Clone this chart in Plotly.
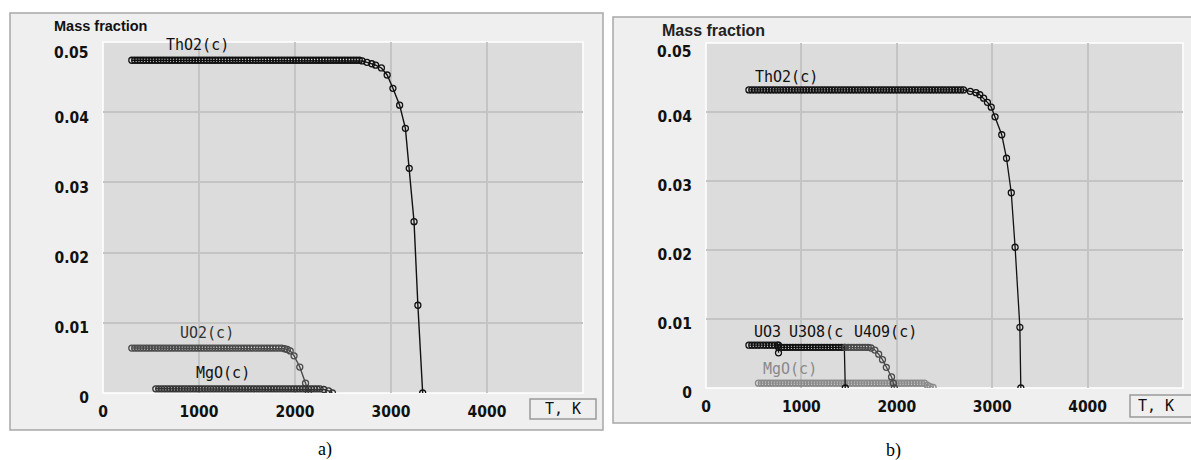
import plotly.graph_objects as go

# ---------------- data: panel a ----------------
THO2_A_T = [300, 330, 360, 390, 420, 450, 480, 510, 540, 570,
            600, 630, 660, 690, 720, 750, 780, 810, 840, 870,
            900, 930, 960, 990, 1020, 1050, 1080, 1110, 1140, 1170,
            1200, 1230, 1260, 1290, 1320, 1350, 1380, 1410, 1440, 1470,
            1500, 1530, 1560, 1590, 1620, 1650, 1680, 1710, 1740, 1770,
            1800, 1830, 1860, 1890, 1920, 1950, 1980, 2010, 2040, 2070,
            2100, 2130, 2160, 2190, 2220, 2250, 2280, 2310, 2340, 2370,
            2400, 2430, 2460, 2490, 2520, 2550, 2580, 2610, 2640, 2670,
            2700, 2750, 2800, 2840, 2900, 2960, 3020, 3090, 3150, 3190,
            3240, 3280, 3330]
THO2_A_V = [0.0474, 0.0474, 0.0474, 0.0474, 0.0474, 0.0474, 0.0474, 0.0474, 0.0474, 0.0474,
            0.0474, 0.0474, 0.0474, 0.0474, 0.0474, 0.0474, 0.0474, 0.0474, 0.0474, 0.0474,
            0.0474, 0.0474, 0.0474, 0.0474, 0.0474, 0.0474, 0.0474, 0.0474, 0.0474, 0.0474,
            0.0474, 0.0474, 0.0474, 0.0474, 0.0474, 0.0474, 0.0474, 0.0474, 0.0474, 0.0474,
            0.0474, 0.0474, 0.0474, 0.0474, 0.0474, 0.0474, 0.0474, 0.0474, 0.0474, 0.0474,
            0.0474, 0.0474, 0.0474, 0.0474, 0.0474, 0.0474, 0.0474, 0.0474, 0.0474, 0.0474,
            0.0474, 0.0474, 0.0474, 0.0474, 0.0474, 0.0474, 0.0474, 0.0474, 0.0474, 0.0474,
            0.0474, 0.0474, 0.0474, 0.0474, 0.0474, 0.0474, 0.0474, 0.0474, 0.0474, 0.0474,
            0.0473, 0.0471, 0.0469, 0.0467, 0.0463, 0.0453, 0.0434, 0.0410, 0.0377, 0.0320,
            0.0244, 0.0125, 0.0]

UO2_A_T = [300, 330, 360, 390, 420, 450, 480, 510, 540, 570,
           600, 630, 660, 690, 720, 750, 780, 810, 840, 870,
           900, 930, 960, 990, 1020, 1050, 1080, 1110, 1140, 1170,
           1200, 1230, 1260, 1290, 1320, 1350, 1380, 1410, 1440, 1470,
           1500, 1530, 1560, 1590, 1620, 1650, 1680, 1710, 1740, 1770,
           1800, 1830, 1860, 1890, 1920, 1950, 1990, 2050, 2110, 2140]
UO2_A_V = [0.0064, 0.0064, 0.0064, 0.0064, 0.0064, 0.0064, 0.0064, 0.0064, 0.0064, 0.0064,
           0.0064, 0.0064, 0.0064, 0.0064, 0.0064, 0.0064, 0.0064, 0.0064, 0.0064, 0.0064,
           0.0064, 0.0064, 0.0064, 0.0064, 0.0064, 0.0064, 0.0064, 0.0064, 0.0064, 0.0064,
           0.0064, 0.0064, 0.0064, 0.0064, 0.0064, 0.0064, 0.0064, 0.0064, 0.0064, 0.0064,
           0.0064, 0.0064, 0.0064, 0.0064, 0.0064, 0.0064, 0.0064, 0.0064, 0.0064, 0.0064,
           0.0064, 0.0064, 0.0064, 0.0063, 0.0062, 0.0060, 0.0053, 0.0037, 0.0014, 0.0]

MGO_A_T = [550, 580, 610, 640, 670, 700, 730, 760, 790, 820,
           850, 880, 910, 940, 970, 1000, 1030, 1060, 1090, 1120,
           1150, 1180, 1210, 1240, 1270, 1300, 1330, 1360, 1390, 1420,
           1450, 1480, 1510, 1540, 1570, 1600, 1630, 1660, 1690, 1720,
           1750, 1780, 1810, 1840, 1870, 1900, 1930, 1960, 1990, 2020,
           2050, 2080, 2110, 2140, 2170, 2200, 2230, 2260, 2300, 2350,
           2390]
MGO_A_V = [0.0006, 0.0006, 0.0006, 0.0006, 0.0006, 0.0006, 0.0006, 0.0006, 0.0006, 0.0006,
           0.0006, 0.0006, 0.0006, 0.0006, 0.0006, 0.0006, 0.0006, 0.0006, 0.0006, 0.0006,
           0.0006, 0.0006, 0.0006, 0.0006, 0.0006, 0.0006, 0.0006, 0.0006, 0.0006, 0.0006,
           0.0006, 0.0006, 0.0006, 0.0006, 0.0006, 0.0006, 0.0006, 0.0006, 0.0006, 0.0006,
           0.0006, 0.0006, 0.0006, 0.0006, 0.0006, 0.0006, 0.0006, 0.0006, 0.0006, 0.0006,
           0.0006, 0.0006, 0.0006, 0.0006, 0.0006, 0.0006, 0.0006, 0.0006, 0.0005, 0.0003,
           0.0]

# ---------------- data: panel b ----------------
THO2_B_T = [450, 480, 510, 540, 570, 600, 630, 660, 690, 720,
            750, 780, 810, 840, 870, 900, 930, 960, 990, 1020,
            1050, 1080, 1110, 1140, 1170, 1200, 1230, 1260, 1290, 1320,
            1350, 1380, 1410, 1440, 1470, 1500, 1530, 1560, 1590, 1620,
            1650, 1680, 1710, 1740, 1770, 1800, 1830, 1860, 1890, 1920,
            1950, 1980, 2010, 2040, 2070, 2100, 2130, 2160, 2190, 2220,
            2250, 2280, 2310, 2340, 2370, 2400, 2430, 2460, 2490, 2520,
            2550, 2580, 2610, 2640, 2670, 2700, 2770, 2830, 2870, 2910,
            2950, 2990, 3030, 3100, 3150, 3200, 3240, 3290, 3300]
THO2_B_V = [0.0432, 0.0432, 0.0432, 0.0432, 0.0432, 0.0432, 0.0432, 0.0432, 0.0432, 0.0432,
            0.0432, 0.0432, 0.0432, 0.0432, 0.0432, 0.0432, 0.0432, 0.0432, 0.0432, 0.0432,
            0.0432, 0.0432, 0.0432, 0.0432, 0.0432, 0.0432, 0.0432, 0.0432, 0.0432, 0.0432,
            0.0432, 0.0432, 0.0432, 0.0432, 0.0432, 0.0432, 0.0432, 0.0432, 0.0432, 0.0432,
            0.0432, 0.0432, 0.0432, 0.0432, 0.0432, 0.0432, 0.0432, 0.0432, 0.0432, 0.0432,
            0.0432, 0.0432, 0.0432, 0.0432, 0.0432, 0.0432, 0.0432, 0.0432, 0.0432, 0.0432,
            0.0432, 0.0432, 0.0432, 0.0432, 0.0432, 0.0432, 0.0432, 0.0432, 0.0432, 0.0432,
            0.0432, 0.0432, 0.0432, 0.0432, 0.0432, 0.0432, 0.0430, 0.0428, 0.0425, 0.0420,
            0.0414, 0.0407, 0.0393, 0.0367, 0.0333, 0.0283, 0.0204, 0.0088, 0.0]

UO3_B_T = [450, 480, 510, 540, 570, 600, 630, 660, 690, 720, 750, 760, 760]
UO3_B_V = [0.0062, 0.0062, 0.0062, 0.0062, 0.0062, 0.0062, 0.0062, 0.0062, 0.0062, 0.0062,
           0.0062, 0.0062, 0.0051]

U3O8_B_T = [760, 790, 820, 850, 880, 910, 940, 970, 1000, 1030,
            1060, 1090, 1120, 1150, 1180, 1210, 1240, 1270, 1300, 1330,
            1360, 1390, 1420, 1450, 1460]
U3O8_B_V = [0.0059, 0.0059, 0.0059, 0.0059, 0.0059, 0.0059, 0.0059, 0.0059, 0.0059, 0.0059,
            0.0059, 0.0059, 0.0059, 0.0059, 0.0059, 0.0059, 0.0059, 0.0059, 0.0059, 0.0059,
            0.0059, 0.0059, 0.0059, 0.0059, 0.0]

U4O9_B_T = [1460, 1490, 1520, 1550, 1580, 1610, 1640, 1670, 1700, 1730,
            1770, 1810, 1850, 1890, 1945, 1965, 1975]
U4O9_B_V = [0.0059, 0.0059, 0.0059, 0.0059, 0.0059, 0.0059, 0.0059, 0.0059, 0.0059, 0.0058,
            0.0055, 0.0049, 0.0041, 0.0030, 0.0016, 0.0007, 0.0]

MGO_B_T = [550, 580, 610, 640, 670, 700, 730, 760, 790, 820,
           850, 880, 910, 940, 970, 1000, 1030, 1060, 1090, 1120,
           1150, 1180, 1210, 1240, 1270, 1300, 1330, 1360, 1390, 1420,
           1450, 1480, 1510, 1540, 1570, 1600, 1630, 1660, 1690, 1720,
           1750, 1780, 1810, 1840, 1870, 1900, 1930, 1960, 1990, 2020,
           2050, 2080, 2110, 2140, 2170, 2200, 2230, 2260, 2290, 2320,
           2350, 2380]
MGO_B_V = [0.0007, 0.0007, 0.0007, 0.0007, 0.0007, 0.0007, 0.0007, 0.0007, 0.0007, 0.0007,
           0.0007, 0.0007, 0.0007, 0.0007, 0.0007, 0.0007, 0.0007, 0.0007, 0.0007, 0.0007,
           0.0007, 0.0007, 0.0007, 0.0007, 0.0007, 0.0007, 0.0007, 0.0007, 0.0007, 0.0007,
           0.0007, 0.0007, 0.0007, 0.0007, 0.0007, 0.0007, 0.0007, 0.0007, 0.0007, 0.0007,
           0.0007, 0.0007, 0.0007, 0.0007, 0.0007, 0.0007, 0.0007, 0.0007, 0.0007, 0.0007,
           0.0007, 0.0007, 0.0007, 0.0007, 0.0007, 0.0007, 0.0007, 0.0007, 0.0007, 0.0004,
           0.0002, 0.0001]

X_TICKS = [0, 1000, 2000, 3000, 4000]
X_TICK_TEXT = ["0", "1000", "2000", "3000", "4000"]
Y_TICKS = [0, 0.01, 0.02, 0.03, 0.04, 0.05]
Y_TICK_TEXT = ["0", "0.01", "0.02", "0.03", "0.04", ""]
Y_TOP_LABEL = "0.05"

# series labels (text, x, y, colour) per panel
LABELS_A = [("ThO2(c)", 985, 0.0496, "#111111"),
            ("UO2(c)", 1079, 0.00855, "#333333"),
            ("MgO(c)", 1255, 0.00285, "#111111")]
LABELS_B = [("ThO2(c)", 846, 0.0451, "#111111"),
            ("UO3", 648, 0.0081, "#111111"),
            ("U3O8(c", 1149, 0.0081, "#111111"),
            ("U4O9(c)", 1881, 0.0081, "#111111"),
            ("MgO(c)", 878, 0.00275, "#8a8a8a")]

W, H = 1191, 460
PLOT_BG = "#dcdcdc"
FRAME_BG = "#efefef"
GRID = "#c4c4c4"
MONO = "DejaVu Sans Mono, Liberation Mono, monospace"
NARROW = "Liberation Sans Narrow, DejaVu Sans Condensed, Liberation Sans, Arial, sans-serif"


def px_x(p):
    return p / W


def px_y(p):
    return 1 - p / H


fig = go.Figure()


def add_series(t, v, color, xa, ya, lw=1.4):
    fig.add_trace(go.Scatter(
        x=t, y=v, mode="lines+markers", xaxis=xa, yaxis=ya,
        line=dict(color=color, width=lw),
        marker=dict(symbol="circle-open", size=6, color=color,
                    line=dict(width=1.3, color=color)),
        showlegend=False, hoverinfo="skip"))


# panel a
add_series(THO2_A_T, THO2_A_V, "#111111", "x", "y")
add_series(UO2_A_T, UO2_A_V, "#4a4a4a", "x", "y")
add_series(MGO_A_T, MGO_A_V, "#333333", "x", "y")
# panel b
add_series(THO2_B_T, THO2_B_V, "#111111", "x2", "y2", lw=1.3)
add_series(MGO_B_T, MGO_B_V, "#8a8a8a", "x2", "y2", lw=1.2)
add_series(UO3_B_T, UO3_B_V, "#111111", "x2", "y2", lw=1.3)
add_series(U3O8_B_T, U3O8_B_V, "#111111", "x2", "y2", lw=1.3)
add_series(U4O9_B_T, U4O9_B_V, "#4a4a4a", "x2", "y2", lw=1.3)

axis_font = dict(family=NARROW, size=15.5, color="#111111", weight="bold")


def xaxis(domain, anchor):
    return dict(domain=domain, anchor=anchor, range=[0, 5000], tickvals=X_TICKS,
                ticktext=X_TICK_TEXT, showgrid=True, gridcolor=GRID, gridwidth=1.5,
                zeroline=False, showline=False, ticks="", ticklabelstandoff=7,
                tickfont=axis_font, fixedrange=True, automargin=False)


def yaxis(domain, anchor):
    return dict(domain=domain, anchor=anchor, range=[0, 0.05], tickvals=Y_TICKS,
                ticktext=Y_TICK_TEXT, showgrid=True, gridcolor=GRID, gridwidth=1.5,
                zeroline=False, showline=False, ticks="", ticklabelstandoff=13,
                ticklabelshift=5, tickfont=axis_font, fixedrange=True, automargin=False)


shapes = [
    # outer frames
    dict(type="rect", xref="paper", yref="paper", x0=px_x(10), x1=px_x(603),
         y0=px_y(430), y1=px_y(13), fillcolor=FRAME_BG,
         line=dict(color="#a8a8a8", width=1.5), layer="below"),
    dict(type="rect", xref="paper", yref="paper", x0=px_x(613), x1=px_x(1200),
         y0=px_y(423), y1=px_y(17), fillcolor=FRAME_BG,
         line=dict(color="#a8a8a8", width=1.5), layer="below"),
    # plot areas
    dict(type="rect", xref="x domain", yref="y domain", x0=0, x1=1, y0=0, y1=1,
         fillcolor=PLOT_BG, line=dict(color="#ffffff", width=1.5), layer="below"),
    dict(type="rect", xref="x2 domain", yref="y2 domain", x0=0, x1=1, y0=0, y1=1,
         fillcolor=PLOT_BG, line=dict(color="#ffffff", width=1.5), layer="below"),
    # "T, K" boxes
    dict(type="rect", xref="paper", yref="paper", x0=px_x(530), x1=px_x(596),
         y0=px_y(419), y1=px_y(399), fillcolor=FRAME_BG,
         line=dict(color="#9a9a9a", width=1.5)),
    dict(type="rect", xref="paper", yref="paper", x0=px_x(1130), x1=px_x(1200),
         y0=px_y(417), y1=px_y(395), fillcolor=FRAME_BG,
         line=dict(color="#9a9a9a", width=1.5)),
]

annotations = []
for text, x, y, c in LABELS_A:
    annotations.append(dict(text=text, x=x, y=y, xref="x", yref="y", showarrow=False,
                            xanchor="center", yanchor="middle",
                            font=dict(family=MONO, size=15, color=c)))
for text, x, y, c in LABELS_B:
    annotations.append(dict(text=text, x=x, y=y, xref="x2", yref="y2", showarrow=False,
                            xanchor="center", yanchor="middle",
                            font=dict(family=MONO, size=15, color=c)))


def txt(text, xp, yp, font, xanchor="center"):
    return dict(text=text, x=px_x(xp), y=px_y(yp), xref="paper", yref="paper",
                xanchor=xanchor, yanchor="middle", showarrow=False, font=font)


annotations += [
    txt("Mass fraction", 52, 26, dict(family="Liberation Sans, Arial, sans-serif", size=14.5,
                                      color="#111111", weight="bold"), "left"),
    txt("Mass fraction", 660, 31, dict(family="Liberation Sans, Arial, sans-serif", size=16,
                                       color="#222222", weight="bold"), "left"),
    txt(Y_TOP_LABEL, 90, 53, axis_font, "right"),
    txt(Y_TOP_LABEL, 693, 52, axis_font, "right"),
    txt("T, K", 563, 409, dict(family=MONO, size=15, color="#111111")),
    txt("T, K", 1136, 406, dict(family=MONO, size=15, color="#111111"), "left"),
    txt("a)", 325, 449, dict(family="Liberation Serif, Times New Roman, serif",
                             size=18, color="#000000")),
    txt("b)", 893, 450, dict(family="Liberation Serif, Times New Roman, serif",
                             size=18, color="#000000")),
]

fig.update_layout(
    width=W, height=H, autosize=False,
    margin=dict(l=0, r=0, t=0, b=0, pad=0),
    paper_bgcolor="#ffffff", plot_bgcolor="rgba(0,0,0,0)",
    xaxis=xaxis([px_x(103), px_x(583)], "y"),
    yaxis=yaxis([px_y(393), px_y(42)], "x"),
    xaxis2=xaxis([px_x(706), px_x(1183)], "y2"),
    yaxis2=yaxis([px_y(388), px_y(43)], "x2"),
    shapes=shapes, annotations=annotations,
)

fig.write_html(
    "out.html",
    config={"displayModeBar": False},
    post_script="document.body.style.margin='0';document.body.style.overflow='hidden';",
)
